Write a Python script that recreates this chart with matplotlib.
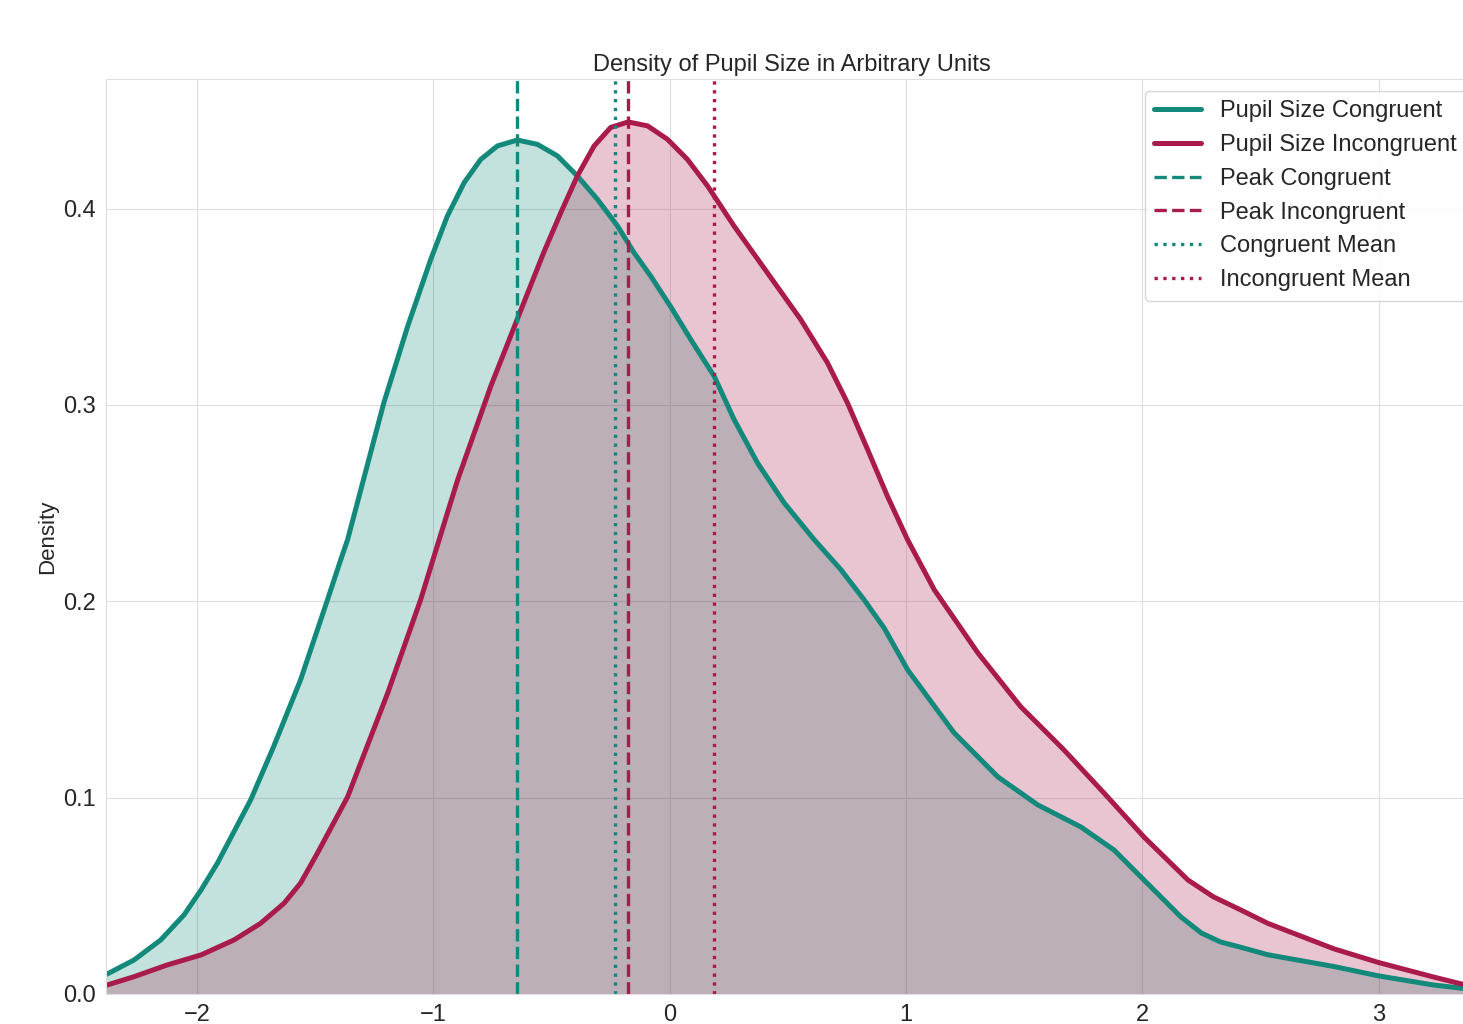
import numpy as np
import matplotlib.pyplot as plt
import seaborn as sns

sns.set_style("whitegrid", {"grid.color": "#dedede", "axes.edgecolor": "#dedede"})
plt.rcParams['font.family'] = ['Liberation Sans', 'DejaVu Sans']

# density curves
cong_x = [-2.42, -2.380, -2.267, -2.154, -2.055, -1.983, -1.914, -1.773, -1.676, -1.562,
          -1.448, -1.392, -1.363, -1.210, -1.109, -1.011, -0.941, -0.870, -0.800, -0.729,
          -0.645, -0.560, -0.475, -0.391, -0.306, -0.221, -0.151, -0.080, 0.004, 0.089,
          0.188, 0.272, 0.371, 0.484, 0.611, 0.724, 0.822, 0.907, 1.007, 1.203,
          1.388, 1.557, 1.739, 1.879, 2.006, 2.163, 2.25, 2.33, 2.416, 2.53, 2.81,
          3.0, 3.23, 3.42]
cong_y = [0.009, 0.0102, 0.0173, 0.0275, 0.0403, 0.053, 0.0666, 0.0989, 0.126, 0.160,
          0.2008, 0.2212, 0.2314, 0.301, 0.340, 0.3742, 0.3962, 0.4132, 0.425, 0.4319,
          0.4349, 0.4327, 0.4268, 0.4166, 0.4047, 0.3911, 0.3775, 0.3655, 0.350, 0.3333,
          0.3146, 0.2926, 0.2705, 0.2501, 0.2314, 0.2161, 0.2008, 0.1864, 0.165, 0.133,
          0.1106, 0.0963, 0.0851, 0.0734, 0.0581, 0.0392, 0.031, 0.0265, 0.0238, 0.020, 0.014,
          0.0092, 0.0046, 0.002]

incong_x = [-2.42, -2.380, -2.267, -2.126, -1.983, -1.844, -1.731, -1.632, -1.562, -1.490,
            -1.363, -1.193, -1.054, -0.969, -0.897, -0.757, -0.644, -0.532, -0.461, -0.391,
            -0.320, -0.250, -0.176, -0.094, -0.010, 0.075, 0.160, 0.216, 0.272, 0.413,
            0.554, 0.667, 0.752, 0.837, 0.921, 1.006, 1.119, 1.231, 1.303, 1.485,
            1.667, 1.837, 2.006, 2.192, 2.30, 2.416, 2.53, 2.81, 3.0, 3.23, 3.42]
incong_y = [0.0035, 0.0046, 0.0088, 0.0148, 0.0199, 0.0275, 0.036, 0.0462, 0.0565, 0.0719,
            0.1004, 0.1534, 0.2008, 0.234, 0.262, 0.3096, 0.344, 0.378, 0.3979, 0.4166,
            0.4319, 0.4413, 0.4441, 0.4421, 0.4353, 0.425, 0.4115, 0.4013, 0.3911, 0.3673,
            0.3435, 0.3215, 0.301, 0.2773, 0.2535, 0.2314, 0.2059, 0.1864, 0.1738, 0.1463,
            0.1244, 0.1024, 0.080, 0.0581, 0.0495, 0.0428, 0.036, 0.023, 0.016, 0.0087, 0.003]

peak_cong = -0.648
peak_incong = -0.175
mean_cong = -0.232
mean_incong = 0.189

teal = '#12897a'
crimson = '#a81b4b'

fig = plt.figure(figsize=(14.63, 10.24), dpi=100)
ax = fig.add_axes([0.0725, 0.0293, 0.9378, 0.8936])

ax.fill_between(cong_x, cong_y, color=teal, alpha=0.25, lw=0)
ax.plot(cong_x, cong_y, color=teal, lw=3.6, solid_joinstyle='round',
        label='Pupil Size Congruent')
ax.fill_between(incong_x, incong_y, color=crimson, alpha=0.25, lw=0)
ax.plot(incong_x, incong_y, color=crimson, lw=3.6, solid_joinstyle='round',
        label='Pupil Size Incongruent')

ax.axvline(peak_cong, color=teal, ls='--', lw=2.4, label='Peak Congruent')
ax.axvline(peak_incong, color=crimson, ls='--', lw=2.4, label='Peak Incongruent')
ax.axvline(mean_cong, color=teal, ls=':', lw=2.4, label='Congruent Mean')
ax.axvline(mean_incong, color=crimson, ls=':', lw=2.4, label='Incongruent Mean')

ax.set_xlim(-2.385, 3.42)
ax.set_ylim(0, 0.466)
ax.set_xticks([-2, -1, 0, 1, 2, 3])
ax.set_yticks([0.0, 0.1, 0.2, 0.3, 0.4])
ax.tick_params(labelsize=17)
ax.set_title('Density of Pupil Size in Arbitrary Units', fontsize=17)
ax.set_ylabel('Density', fontsize=16)
ax.legend(loc='upper right', fontsize=17, frameon=True)

fig.savefig('out.png', dpi=100)
